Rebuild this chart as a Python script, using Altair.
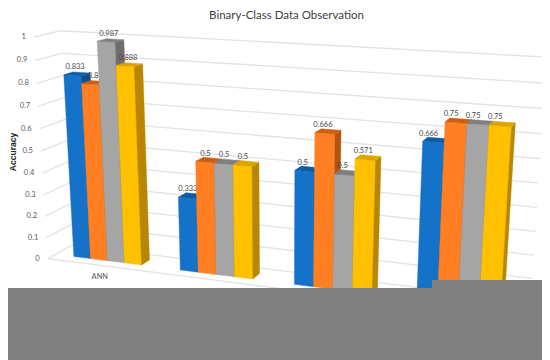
import altair as alt
import numpy as np
import pandas as pd

TITLE = "Binary-Class Data Observation"
Y_TITLE = "Accuracy"
CATEGORY_LABELS = ["ANN"]
TICKS = [0, 0.1, 0.2, 0.3, 0.4, 0.5, 0.6, 0.7, 0.8, 0.9, 1]
TICK_LABELS = ["0", "0.1", "0.2", "0.3", "0.4", "0.5", "0.6", "0.7", "0.8", "0.9", "1"]
SERIES_A = [0.833, 0.333, 0.5, 0.666]
SERIES_B = [0.8, 0.5, 0.666, 0.75]
SERIES_C = [0.987, 0.5, 0.5, 0.75]
SERIES_D = [0.888, 0.5, 0.571, 0.75]
SERIES = [SERIES_A, SERIES_B, SERIES_C, SERIES_D]
FRONT = ["#1472C8", "#FF7F22", "#A5A5A5", "#FFC000"]
TOP = ["#0E5BA6", "#CC5F14", "#7F7F7F", "#DDA300"]
SIDE = ["#0B4F8F", "#B5530F", "#6E6E6E", "#B88600"]

GAP = 0.178      # category gap on each side
D0, D1 = 0.32, 0.68  # bar depth inside the floor

# Camera calibration: cube (category, depth, value) -> screen pixel
g = GAP
CAL = [
    (0, 1, 1, 60, 31), (0, 1, 0, 72, 246), (4, 1, 1, 547, 57), (4, 1, 0, 531, 301),
    (0, 0, 1, 34, 38), (0, 0, 0, 48, 258),
    (g, D0, 0, 73, 257), (1 - g, D0, 0, 142, 265), (1 + g, D0, 0, 180, 270),
    (2 - g, D0, 0, 253, 279), (2 + g, D0, 0, 294, 284),
    (g, D0, .833, 64, 75), (1 - g, D0, .888, 134, 64), (1 + g, D0, .333, 178, 198),
    (2 - g, D0, .5, 252, 166), (2 + g, D0, .5, 294, 171), (3 - g, D0, .571, 376, 161),
    (3 + g, D0, .666, 423, 142), (4 - g, D0, .75, 512, 127), (4 - g, D1, .75, 515, 123),
    (1 - g, D1, .888, 143, 63.5), (1 - g, D1, 0, 150, 259),
]
A, b = [], []
for u, d, v, x, y in CAL:
    A.append([u, d, v, 1, 0, 0, 0, 0, -x * u, -x * d, -x * v]); b.append(x)
    A.append([0, 0, 0, 0, u, d, v, 1, -y * u, -y * d, -y * v]); b.append(y)
p = np.linalg.lstsq(np.array(A, float), np.array(b, float), rcond=None)[0]
CAM = np.append(p, 1.0).reshape(3, 4)


def project(u, d, v):
    h = CAM @ np.array([u, d, v, 1.0])
    return float(h[0] / h[2]), float(h[1] / h[2])


X = alt.X("px:Q", scale=alt.Scale(domain=[8, 542], nice=False, zero=False), axis=None)
Y = alt.Y("py:Q", scale=alt.Scale(domain=[360, 8], nice=False, zero=False), axis=None)

# gridlines
grid_rows = []
for i, t in enumerate(TICKS):
    for name, pts in (
        ("back", [(0, 1, t), (4, 1, t)]),
        ("side", [(0, 0, t), (0, 1, t)]),
    ):
        for k, q in enumerate(pts):
            x, y = project(*q)
            grid_rows.append(dict(line=f"{name}{i}", k=k, px=x, py=y))
for k, q in enumerate([(0, 0, 0), (4, 0, 0)]):
    x, y = project(*q)
    grid_rows.append(dict(line="front", k=k, px=x, py=y))
grid = alt.Chart(pd.DataFrame(grid_rows)).mark_line(
    color="#E2E2E2", strokeWidth=1.3, clip=True
).encode(x=X, y=Y, detail="line:N", order="k:Q")

# axis labels
tick_rows = []
for t, lab in zip(TICKS, TICK_LABELS):
    x, y = project(0, 0, t)
    tick_rows.append(dict(px=x, py=y, label=lab))
tick_text = alt.Chart(pd.DataFrame(tick_rows)).mark_text(
    align="right", baseline="middle", dx=-8, font="Lato", fontSize=7.5, color="#595959"
).encode(x=X, y=Y, text="label:N")

cat_rows = []
for i, lab in enumerate(CATEGORY_LABELS):
    x, y = project(i + 0.5, 0, 0)
    cat_rows.append(dict(px=x, py=y, label=lab))
cat_text = alt.Chart(pd.DataFrame(cat_rows)).mark_text(
    align="center", baseline="middle", dy=12, font="Lato", fontSize=7.5, color="#595959"
).encode(x=X, y=Y, text="label:N")

layers = [grid, tick_text, cat_text]

# bars, each series painted over the previous one, with its labels in between
bar_w = (1 - 2 * GAP) / 4
for s, values in enumerate(SERIES):
    rows, labs = [], []
    for c, v in enumerate(values):
        u0 = c + GAP + s * bar_w
        u1 = u0 + bar_w
        faces = {
            "front": ([(u0, D0, 0), (u1, D0, 0), (u1, D0, v), (u0, D0, v)], FRONT[s]),
            "side": ([(u1, D0, 0), (u1, D1, 0), (u1, D1, v), (u1, D0, v)], SIDE[s]),
            "top": ([(u0, D0, v), (u1, D0, v), (u1, D1, v), (u0, D1, v)], TOP[s]),
        }
        for fname, (pts, col) in faces.items():
            for k, q in enumerate(pts + pts[:1]):
                x, y = project(*q)
                rows.append(dict(poly=f"{c}-{fname}", k=k, px=x, py=y, col=col))
        uc = (u0 + u1) / 2
        lx, _ = project(uc + (1.2 - c) * 0.02, D0, v)
        _, ly = project(uc, 0.5, v)
        labs.append(dict(px=lx, py=ly, label=f"{v:g}"))
    poly = alt.Chart(pd.DataFrame(rows)).mark_line(strokeWidth=0.4, clip=True).encode(
        x=X, y=Y, detail="poly:N", order="k:Q",
        fill=alt.Fill("col:N", scale=None), stroke=alt.Stroke("col:N", scale=None),
    )
    text = alt.Chart(pd.DataFrame(labs)).mark_text(
        align="center", baseline="bottom", dy=-2.5, font="Lato", fontSize=7.5, color="#484848"
    ).encode(x=X, y=Y, text="label:N")
    layers += [poly, text]

# grey panels covering the lower part of the picture
mask1 = alt.Chart(pd.DataFrame({"a": [0]})).mark_rect(color="#808080").encode(
    x=alt.value(0), x2=alt.value(534), y=alt.value(280), y2=alt.value(352))
mask2 = alt.Chart(pd.DataFrame({"a": [0]})).mark_rect(color="#808080").encode(
    x=alt.value(424), x2=alt.value(534), y=alt.value(272), y2=alt.value(352))
axis_title = alt.Chart(pd.DataFrame({"t": [Y_TITLE]})).mark_text(
    angle=270, font="Liberation Sans", fontWeight="bold", fontSize=8.5, color="#262626"
).encode(x=alt.value(4.5), y=alt.value(144), text="t:N")
title_text = alt.Chart(pd.DataFrame({"t": [TITLE]})).mark_text(
    font="Lato", fontSize=11.5, color="#404040", align="center", baseline="middle"
).encode(x=alt.value(278.5), y=alt.value(8), text="t:N")

chart = alt.layer(*layers, mask1, mask2, axis_title, title_text).properties(
    width=534, height=352,
    padding=0,
    autosize=alt.AutoSizeParams(type="none"),
).configure_view(stroke=None)

chart.save("out.html", embed_options={"renderer": "svg", "actions": False})
